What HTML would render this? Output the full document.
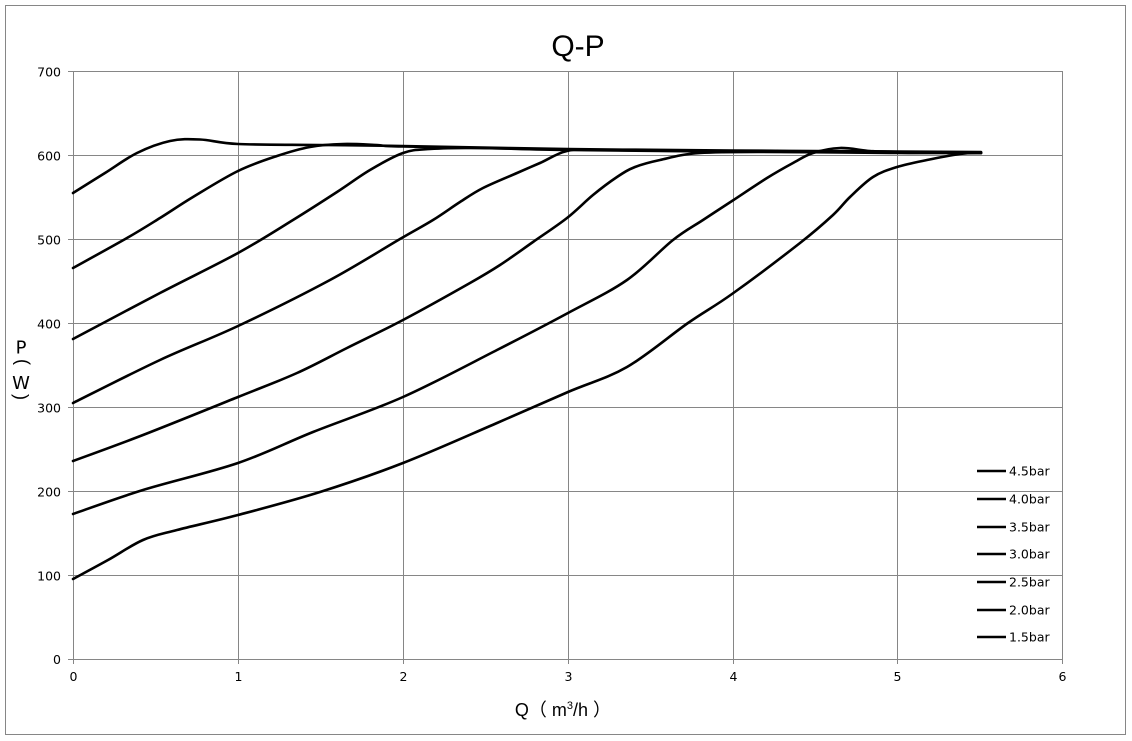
<!DOCTYPE html>
<html><head><meta charset="utf-8">
<style>
html,body{margin:0;padding:0;background:#fff;}
body{position:relative;width:1132px;height:741px;overflow:hidden;}
svg{display:block;position:absolute;left:0;top:0;}
text{font-family:"DejaVu Sans","Liberation Sans",sans-serif;fill:#000;}
.par{position:absolute;width:20px;height:20px;line-height:20px;font-size:18px;text-align:center;font-family:"Liberation Sans",sans-serif;color:#000;}
</style></head>
<body>
<svg id="s" width="1132" height="741" viewBox="0 0 1132 741" xmlns="http://www.w3.org/2000/svg">
<rect x="0" y="0" width="1132" height="741" fill="#fff"/>
<rect x="5.5" y="5.5" width="1120" height="729" fill="none" stroke="#868686" stroke-width="1"/>
<g stroke="#868686" stroke-width="1" shape-rendering="crispEdges">
<line x1="68" y1="71.5" x2="1062" y2="71.5"/>
<line x1="68" y1="155.5" x2="1062" y2="155.5"/>
<line x1="68" y1="239.5" x2="1062" y2="239.5"/>
<line x1="68" y1="323.5" x2="1062" y2="323.5"/>
<line x1="68" y1="407.5" x2="1062" y2="407.5"/>
<line x1="68" y1="491.5" x2="1062" y2="491.5"/>
<line x1="68" y1="575.5" x2="1062" y2="575.5"/>
<line x1="68" y1="659.5" x2="1062" y2="659.5"/>
<line x1="73.5" y1="71" x2="73.5" y2="664"/>
<line x1="238.5" y1="71" x2="238.5" y2="664"/>
<line x1="403.5" y1="71" x2="403.5" y2="664"/>
<line x1="568.5" y1="71" x2="568.5" y2="664"/>
<line x1="733.5" y1="71" x2="733.5" y2="664"/>
<line x1="897.5" y1="71" x2="897.5" y2="664"/>
<line x1="1062.5" y1="71" x2="1062.5" y2="664"/>
</g>
<g font-size="12.5" text-anchor="end">
<text x="61" y="76.5">700</text>
<text x="61" y="160.5">600</text>
<text x="61" y="244.5">500</text>
<text x="61" y="328.5">400</text>
<text x="61" y="412.5">300</text>
<text x="61" y="496.5">200</text>
<text x="61" y="580.5">100</text>
<text x="61" y="664">0</text>
</g>
<g font-size="12.5" text-anchor="middle">
<text x="73.5" y="681">0</text>
<text x="238.5" y="681">1</text>
<text x="403.5" y="681">2</text>
<text x="568.5" y="681">3</text>
<text x="733.5" y="681">4</text>
<text x="897.5" y="681">5</text>
<text x="1062.5" y="681">6</text>
</g>
<text x="578" y="56" font-size="30" text-anchor="middle" style="font-family:'Liberation Sans',sans-serif">Q-P</text>
<text x="563" y="716" font-size="18" text-anchor="middle" style="font-family:'Liberation Sans','Noto Sans CJK SC',sans-serif">Q（ m<tspan font-size="11" dy="-7">3</tspan><tspan dy="7">/h ）</tspan></text>
<g font-size="18" text-anchor="middle" style="font-family:'Liberation Sans',sans-serif">
<text x="21" y="353.5">P</text>
<text x="21" y="389">W</text>
</g>
<g id="curves" fill="none" stroke="#000" stroke-width="2.6" stroke-linejoin="round" stroke-linecap="round">
<polyline points="73,193 105,173 137,153 170,141 200,139.5 238,144 320,145 403,146 568,149 733,150.5 897,151.5 981,152"/>
<polyline points="73,268 127,238 160,218 193,197 238,171 277,156 310,147 343,144 377,145 403,146.5 568,149.5 733,151 897,152 981,152.5"/>
<polyline points="73,339 160,293 238,253 293,220 337,192 370,170 403,153 430,149 480,148 568,150 733,151.5 897,152.5 981,153"/>
<polyline points="73,403 160,360 238,326 330,280 400,239 433,220 460,202 483,188 517,173 540,163 567,151 600,150 733,151.5 897,152.5 981,153"/>
<polyline points="73,461 143,435 238,397 297,373 347,348 403,320 470,283 500,265 533,242 567,218 593,195 617,177 635,167 660,160 700,153 780,152 897,153 981,153"/>
<polyline points="73,514 143,490 238,463 313,432 403,397 497,350 568,313 627,280 673,240 703,220 732,201 767,178 793,163 813,153 840,148 870,151 897,152 981,152.5"/>
<polyline points="73,579 108,560 143,540 177,530 238,515 320,492 403,463 497,423 568,392 627,367 688,323 732,294 800,243 833,215 850,197 873,177 897,167 927,160 960,154 981,152.5"/>
</g>
<g stroke="#000" stroke-width="2.6">
<line x1="977" y1="471" x2="1006" y2="471"/>
<line x1="977" y1="499" x2="1006" y2="499"/>
<line x1="977" y1="527" x2="1006" y2="527"/>
<line x1="977" y1="554" x2="1006" y2="554"/>
<line x1="977" y1="582" x2="1006" y2="582"/>
<line x1="977" y1="610" x2="1006" y2="610"/>
<line x1="977" y1="637" x2="1006" y2="637"/>
</g>
<g font-size="12.5">
<text x="1009" y="475.5">4.5bar</text>
<text x="1009" y="503.5">4.0bar</text>
<text x="1009" y="531.5">3.5bar</text>
<text x="1009" y="558.5">3.0bar</text>
<text x="1009" y="586.5">2.5bar</text>
<text x="1009" y="614.5">2.0bar</text>
<text x="1009" y="641.5">1.5bar</text>
</g>
</svg>
<div class="par" style="left:13px;top:352px;transform:rotate(90deg);">(</div>
<div class="par" style="left:9px;top:387px;transform:rotate(-90deg);">(</div>
<script>
(function(){
var ns="http://www.w3.org/2000/svg";
var pls=document.querySelectorAll("#curves polyline");
for(var i=0;i<pls.length;i++){
 var pl=pls[i];
 var pts=pl.getAttribute("points").trim().split(/\s+/).map(function(s){var a=s.split(",");return [parseFloat(a[0]),parseFloat(a[1])];});
 var d="M"+pts[0][0]+","+pts[0][1];
 for(var k=0;k<pts.length-1;k++){
  var p0=pts[k-1]||pts[k],p1=pts[k],p2=pts[k+1],p3=pts[k+2]||pts[k+1];
  var c1x=p1[0]+(p2[0]-p0[0])/6,c1y=p1[1]+(p2[1]-p0[1])/6;
  var c2x=p2[0]-(p3[0]-p1[0])/6,c2y=p2[1]-(p3[1]-p1[1])/6;
  d+=" C"+c1x.toFixed(2)+","+c1y.toFixed(2)+" "+c2x.toFixed(2)+","+c2y.toFixed(2)+" "+p2[0]+","+p2[1];
 }
 var p=document.createElementNS(ns,"path");
 p.setAttribute("d",d);
 pl.parentNode.replaceChild(p,pl);
}
})();
</script>
</body></html>
